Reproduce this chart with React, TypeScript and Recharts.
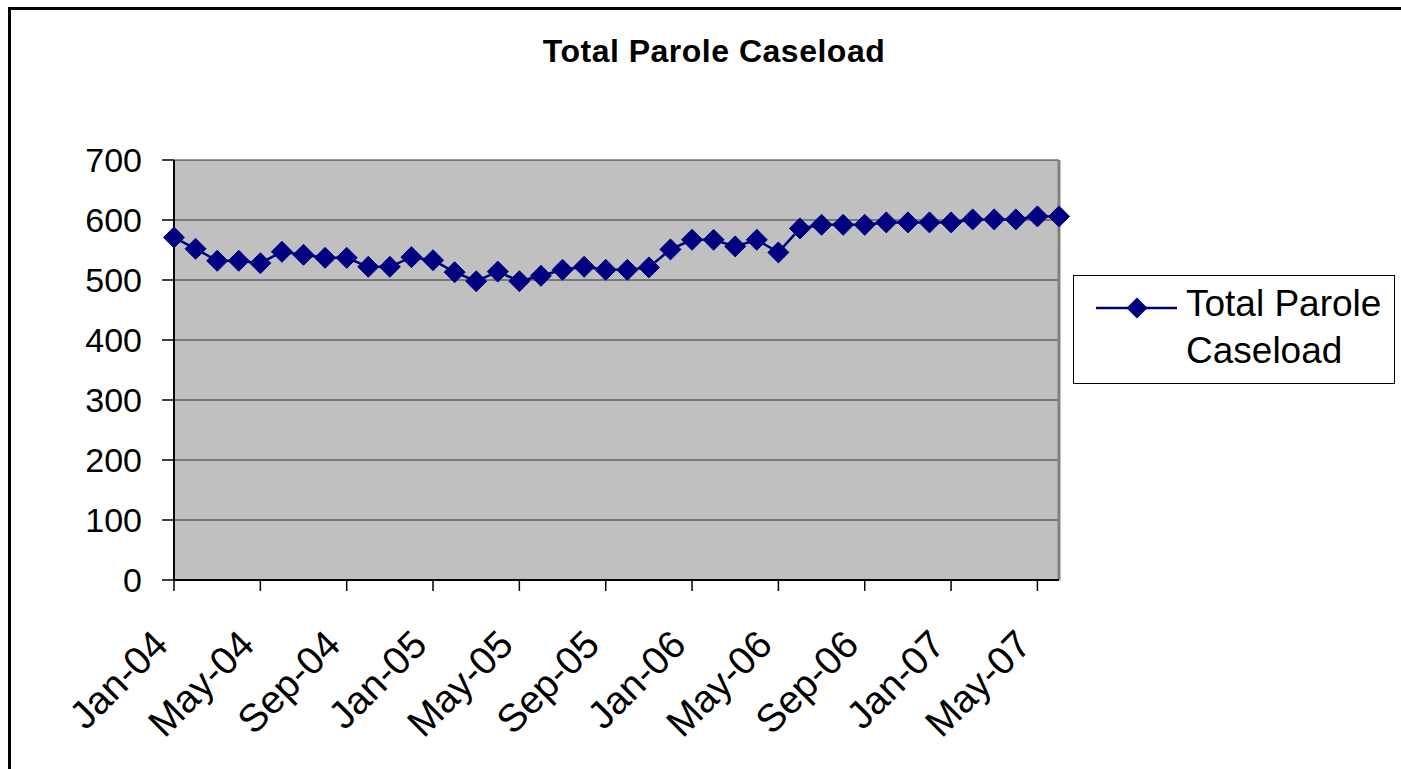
import { CartesianGrid, Line, LineChart, ReferenceLine, XAxis, YAxis } from 'recharts';

const months = [
  'Jan-04', 'Feb-04', 'Mar-04', 'Apr-04', 'May-04', 'Jun-04', 'Jul-04', 'Aug-04', 'Sep-04', 'Oct-04', 'Nov-04', 'Dec-04',
  'Jan-05', 'Feb-05', 'Mar-05', 'Apr-05', 'May-05', 'Jun-05', 'Jul-05', 'Aug-05', 'Sep-05', 'Oct-05', 'Nov-05', 'Dec-05',
  'Jan-06', 'Feb-06', 'Mar-06', 'Apr-06', 'May-06', 'Jun-06', 'Jul-06', 'Aug-06', 'Sep-06', 'Oct-06', 'Nov-06', 'Dec-06',
  'Jan-07', 'Feb-07', 'Mar-07', 'Apr-07', 'May-07', 'Jun-07',
];

const caseload = [
  571, 552, 532, 532, 528, 547, 542, 537, 537, 522, 522, 538,
  533, 513, 498, 514, 498, 507, 517, 522, 517, 517, 521, 551,
  567, 567, 556, 567, 546, 586, 592, 592, 592, 596, 596, 596,
  596, 601, 601, 601, 606, 606,
];

const yTicks = [0, 100, 200, 300, 400, 500, 600, 700];

const data = months.map((month, i) => ({ month, caseload: caseload[i] }));

const FONT = '"Liberation Sans", Arial, sans-serif';
const NAVY = '#000080';

function Diamond({ cx, cy }: { cx?: number; cy?: number }) {
  if (cx == null || cy == null) return null;
  const r = 10.5;
  return (
    <polygon
      points={`${cx},${cy - r} ${cx + r},${cy} ${cx},${cy + r} ${cx - r},${cy}`}
      fill={NAVY}
      stroke={NAVY}
    />
  );
}

function MonthTick({ x, y, payload }: any) {
  return (
    <g transform={`translate(${x - 4},${y + 56})`}>
      <text textAnchor="end" transform="rotate(-45)" fontSize={39} fill="#000" fontFamily={FONT}>
        {payload.value}
      </text>
    </g>
  );
}

export default function App() {
  return (
    <div style={{ position: 'fixed', left: 0, top: 0, width: 1401, height: 769, background: '#fff', overflow: 'hidden', fontFamily: FONT }}>
      <div
        style={{
          position: 'absolute',
          left: 8,
          top: 7,
          width: 1393,
          height: 762,
          borderTop: '3px solid #000',
          borderLeft: '3px solid #000',
          boxSizing: 'border-box',
        }}
      />
      <div
        style={{
          position: 'absolute',
          left: 0,
          top: 35,
          width: 1428,
          textAlign: 'center',
          fontSize: 32,
          lineHeight: '32px',
          fontWeight: 'bold',
          letterSpacing: 0.5,
          color: '#000',
        }}
      >
        Total Parole Caseload
      </div>
      <div style={{ position: 'absolute', left: 0, top: 0 }}>
        <LineChart width={1401} height={769} data={data} margin={{ top: 160, right: 342, bottom: 0, left: 0 }}>
          <CartesianGrid vertical={false} stroke="#333" strokeWidth={1.2} fill="#C0C0C0" fillOpacity={1} />
          <ReferenceLine x="Jun-07" stroke="#808080" strokeWidth={3} />
          <XAxis
            dataKey="month"
            interval={3}
            height={189}
            tickSize={11}
            tickMargin={0}
            tick={<MonthTick />}
            axisLine={{ stroke: '#000', strokeWidth: 2 }}
            tickLine={{ stroke: '#000', strokeWidth: 1.5 }}
            padding={{ left: 0, right: 0 }}
          />
          <YAxis
            domain={[0, 700]}
            ticks={yTicks}
            width={174}
            tickSize={12}
            tickMargin={20}
            tick={{ fontSize: 34, fill: '#000', fontFamily: FONT }}
            axisLine={{ stroke: '#000', strokeWidth: 2 }}
            tickLine={{ stroke: '#000', strokeWidth: 1.5 }}
            allowDecimals={false}
          />
          <Line
            type="linear"
            dataKey="caseload"
            stroke={NAVY}
            strokeWidth={2.5}
            dot={<Diamond />}
            activeDot={false}
            isAnimationActive={false}
          />
        </LineChart>
      </div>
      <div
        style={{
          position: 'absolute',
          left: 1073,
          top: 275,
          width: 322,
          height: 109,
          border: '1.5px solid #000',
          boxSizing: 'border-box',
          background: '#fff',
        }}
      >
        <svg width={322} height={109} style={{ position: 'absolute', left: -1.5, top: -1.5 }}>
          <line x1={23} y1={33} x2={104} y2={33} stroke={NAVY} strokeWidth={2.5} />
          <polygon points="64,22.5 74.5,33 64,43.5 53.5,33" fill={NAVY} />
          <text x={113} y={41} fontSize={37} fill="#000" fontFamily={FONT}>
            Total Parole
          </text>
          <text x={113} y={88} fontSize={37} fill="#000" fontFamily={FONT}>
            Caseload
          </text>
        </svg>
      </div>
    </div>
  );
}
